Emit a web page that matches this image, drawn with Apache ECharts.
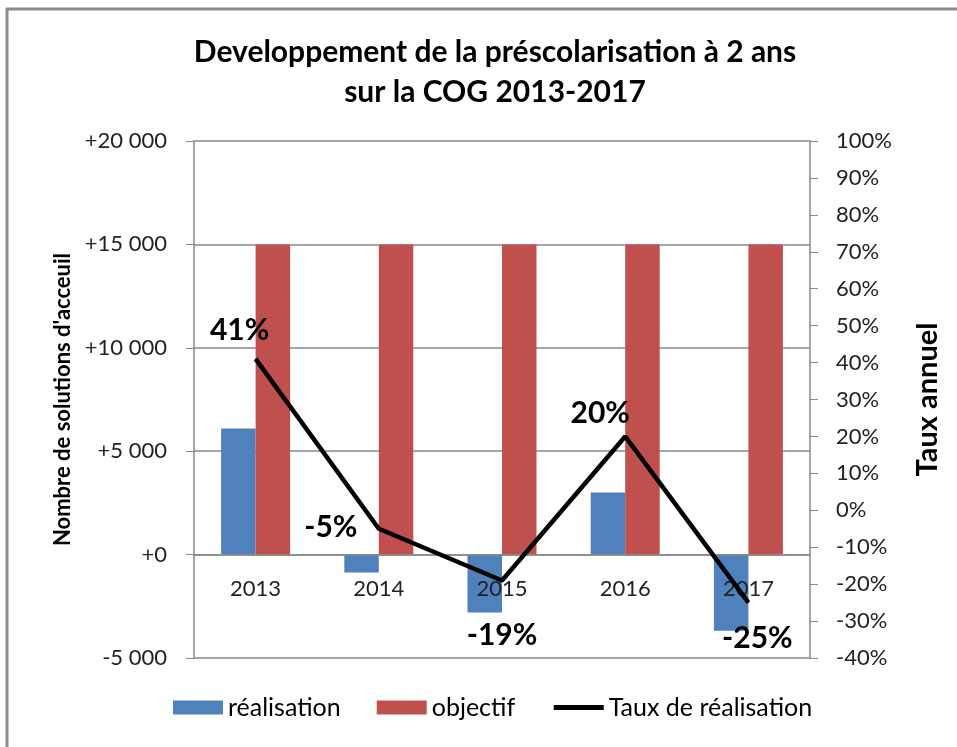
<!DOCTYPE html>
<html>
<head>
<meta charset="utf-8">
<script src="https://cdn.jsdelivr.net/npm/echarts@6/dist/echarts.min.js"></script>
<style>
  html, body { margin: 0; padding: 0; background: #fff; }
  #chart { width: 957px; height: 747px; }
</style>
</head>
<body>
<div id="chart"></div>
<script>
const years = ["2013", "2014", "2015", "2016", "2017"];
const realisation = [6100, -870, -2800, 3000, -3680];
const objectif = [15000, 15000, 15000, 15000, 15000];
const tauxRealisation = [41, -5, -19, 20, -25];

// where each rate label sits relative to its point, in px
const labelOffsets = [[-16, -29], [-48, -1], [0, 55], [-25, -23], [9, 36]];

const FONT = "Lato";

const fmtCount = (v) => {
  const s = Math.abs(v).toString().replace(/\B(?=(\d{3})+(?!\d))/g, " ");
  return (v < 0 ? "-" : "+") + s;
};

const chart = echarts.init(document.getElementById("chart"));
chart.setOption({
  animation: false,
  textStyle: { fontFamily: FONT },
  title: {
    text: "Developpement de la préscolarisation à 2 ans\nsur la COG 2013-2017",
    left: 490,
    textAlign: "center",
    top: 27,
    textStyle: { fontFamily: FONT, fontSize: 30, fontWeight: "bold", color: "#000", lineHeight: 40 },
  },
  graphic: [
    {
      type: "rect",
      shape: { x: 7, y: 9, width: 1000, height: 800 },
      style: { fill: "none", stroke: "#8c8c8c", lineWidth: 3 },
    },
  ],
  legend: {
    bottom: 22,
    left: 168,
    itemWidth: 50,
    itemHeight: 14,
    itemGap: 36,
    textStyle: { fontFamily: FONT, fontSize: 25, color: "#000" },
    data: [
      { name: "réalisation", icon: "rect" },
      { name: "objectif", icon: "rect" },
      { name: "Taux de réalisation", itemStyle: { opacity: 0 }, lineStyle: { width: 5, color: "#000" } },
    ],
  },
  grid: { left: 194, right: 147, top: 141, bottom: 89 },
  xAxis: {
    type: "category",
    data: years,
    z: 10,
    axisLine: { onZero: false, lineStyle: { color: "#888", width: 1.5 } },
    axisTick: { length: 8, lineStyle: { color: "#888" } },
    axisLabel: { fontFamily: FONT, fontSize: 22, color: "#222", margin: 23 },
  },
  yAxis: [
    {
      type: "value",
      min: -5000,
      max: 20000,
      interval: 5000,
      name: "Nombre de solutions d'acceuil",
      nameLocation: "middle",
      nameGap: 118,
      nameTextStyle: { fontFamily: FONT, fontSize: 22, fontWeight: "bold", color: "#000" },
      axisLine: { show: true, lineStyle: { color: "#888", width: 1.5 } },
      axisTick: { show: true, length: 8, lineStyle: { color: "#888" } },
      axisLabel: { fontFamily: FONT, fontSize: 22, color: "#222", margin: 27, formatter: fmtCount },
      splitLine: { show: true, lineStyle: { color: "#888", width: 1.5 } },
    },
    {
      type: "value",
      min: -40,
      max: 100,
      interval: 10,
      name: "Taux annuel",
      nameLocation: "middle",
      nameGap: 103,
      nameRotate: 90,
      nameTextStyle: { fontFamily: FONT, fontSize: 29, fontWeight: "bold", color: "#000" },
      axisLine: { show: true, lineStyle: { color: "#888", width: 1.5 } },
      axisTick: { show: true, length: 8, lineStyle: { color: "#888" } },
      axisLabel: { fontFamily: FONT, fontSize: 22, color: "#222", margin: 26, formatter: "{value}%" },
      splitLine: { show: false },
    },
  ],
  series: [
    {
      name: "réalisation",
      type: "bar",
      data: realisation,
      barGap: "0%",
      barCategoryGap: "44%",
      itemStyle: { color: "#4F81BD" },
    },
    {
      name: "objectif",
      type: "bar",
      data: objectif,
      itemStyle: { color: "#C0504D" },
    },
    {
      name: "Taux de réalisation",
      type: "line",
      yAxisIndex: 1,
      data: tauxRealisation.map((v, i) => ({
        value: v,
        label: { offset: labelOffsets[i] },
      })),
      symbol: "circle",
      symbolSize: 1,
      lineStyle: { color: "#000", width: 4.5 },
      itemStyle: { color: "#000" },
      label: {
        show: true,
        position: "inside",
        formatter: "{c}%",
        fontFamily: FONT,
        fontSize: 30,
        fontWeight: "bold",
        color: "#000",
      },
      z: 12,
    },
  ],
});

// put the category axis on the zero of the left axis
const zeroY = chart.convertToPixel({ yAxisIndex: 0 }, 0);
const bottomY = chart.convertToPixel({ yAxisIndex: 0 }, -5000);
chart.setOption({ xAxis: { offset: zeroY - bottomY } });
</script>
</body>
</html>
